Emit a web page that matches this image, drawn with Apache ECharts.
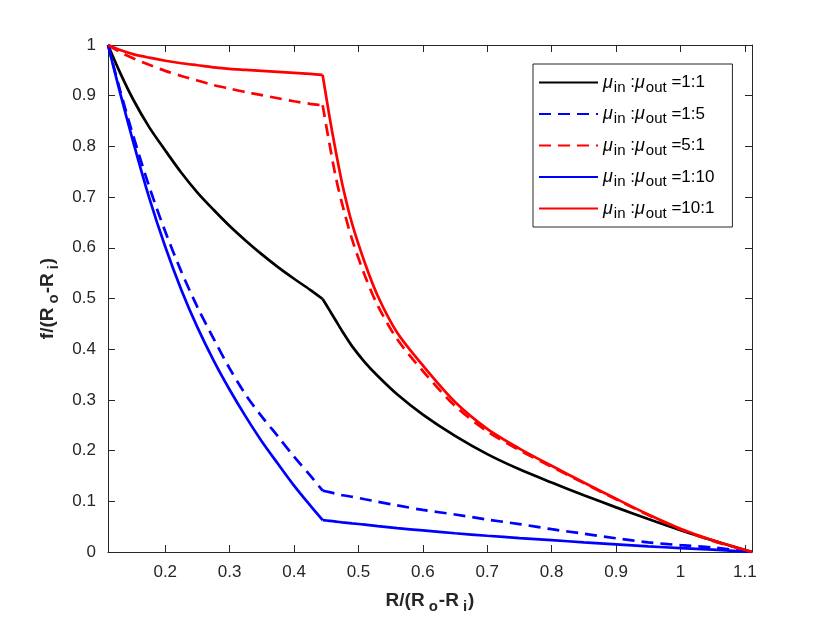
<!DOCTYPE html>
<html>
<head>
<meta charset="utf-8">
<script src="https://cdn.jsdelivr.net/npm/echarts@6/dist/echarts.min.js"></script>
<style>
  html, body { margin: 0; padding: 0; background: #fff; }
  #chart { width: 830px; height: 623px; }
</style>
</head>
<body>
<div id="chart"></div>
<script>
// R/(Ro-Ri): inner layer up to the interface (~0.4444), outer layer after it
const radiusInner = [0.1111, 0.13, 0.15, 0.175, 0.2, 0.225, 0.25, 0.275, 0.3, 0.325, 0.35, 0.375, 0.4, 0.425, 0.4444];
const radiusOuter = [0.4444, 0.455, 0.465, 0.475, 0.49, 0.51, 0.53, 0.56, 0.6, 0.65, 0.7, 0.75, 0.8, 0.85, 0.9, 0.95, 1.0, 1.05, 1.1111];

// f/(Ro-Ri)
const ratio1to1Inner = [1, 0.945, 0.893, 0.838, 0.792, 0.748, 0.709, 0.675, 0.643, 0.614, 0.587, 0.562, 0.539, 0.517, 0.499];
const ratio1to1Outer = [0.499, 0.477, 0.456, 0.435, 0.406, 0.374, 0.347, 0.311, 0.271, 0.229, 0.193, 0.163, 0.137, 0.112, 0.088, 0.065, 0.043, 0.023, 0];

const ratio1to5Inner = [1, 0.910, 0.822, 0.721, 0.632, 0.553, 0.483, 0.421, 0.362, 0.310, 0.267, 0.228, 0.188, 0.151, 0.121];
const ratio1to5Outer = [0.121, 0.118, 0.115, 0.112, 0.109, 0.104, 0.099, 0.092, 0.083, 0.074, 0.064, 0.055, 0.045, 0.036, 0.027, 0.019, 0.0135, 0.009, 0];

const ratio5to1Inner = [1, 0.986, 0.974, 0.961, 0.949, 0.939, 0.930, 0.921, 0.914, 0.907, 0.901, 0.895, 0.889, 0.884, 0.881];
const ratio5to1Outer = [0.881, 0.805, 0.738, 0.685, 0.617, 0.545, 0.486, 0.420, 0.357, 0.288, 0.238, 0.201, 0.168, 0.136, 0.104, 0.073, 0.045, 0.022, 0];

const ratio1to10Inner = [1, 0.905, 0.810, 0.699, 0.602, 0.517, 0.443, 0.378, 0.320, 0.267, 0.218, 0.174, 0.131, 0.092, 0.063];
const ratio1to10Outer = [0.063, 0.0615, 0.060, 0.0585, 0.0565, 0.054, 0.051, 0.047, 0.0425, 0.037, 0.032, 0.0275, 0.0235, 0.019, 0.015, 0.011, 0.0078, 0.0045, 0];

const ratio10to1Inner = [1, 0.990, 0.982, 0.975, 0.969, 0.964, 0.960, 0.956, 0.953, 0.951, 0.949, 0.947, 0.945, 0.943, 0.941];
const ratio10to1Outer = [0.941, 0.859, 0.789, 0.725, 0.648, 0.570, 0.505, 0.433, 0.368, 0.296, 0.243, 0.204, 0.170, 0.137, 0.105, 0.074, 0.046, 0.023, 0];

const xTicks = [0.2, 0.3, 0.4, 0.5, 0.6, 0.7, 0.8, 0.9, 1.0, 1.1];
const seriesNames = ['1:1', '1:5', '5:1', '1:10', '10:1'];

const font = 'Liberation Sans';
const axisColor = '#262626';

const chart = echarts.init(document.getElementById('chart'));

function pairs(xs, ys) {
  return xs.map((x, i) => [x, ys[i]]);
}

// one curve = two pieces (inner / outer layer) so the kink at the interface stays sharp
function curve(name, inner, outer, color, dashed) {
  const style = { color: color, width: 2.7, type: dashed ? [12, 7] : 'solid' };
  return [radiusInner, radiusOuter].map((xs, k) => ({
    name: name,
    type: 'line',
    data: pairs(xs, k === 0 ? inner : outer),
    symbol: 'none',
    smooth: 0.3,
    color: color,
    lineStyle: style,
  }));
}

const nameRich = {
  b: { fontFamily: font, fontSize: 19, fontWeight: 'bold', color: axisColor, lineHeight: 24 },
  sub: { fontFamily: font, fontSize: 15, fontWeight: 'bold', color: axisColor, lineHeight: 15, padding: [12, 1, 0, 4] },
};

const tickStyle = { inside: true, length: 7, lineStyle: { color: axisColor, width: 1 } };
const lineStyle = { onZero: false, lineStyle: { color: axisColor, width: 1 } };
const tickLabel = {
  formatter: v => String(Math.round(v * 10) / 10),
  color: axisColor,
  fontFamily: font,
  fontSize: 17,
};

const option = {
  backgroundColor: '#ffffff',
  animation: false,
  grid: { left: 108, right: 78, top: 45, bottom: 71 },
  legend: {
    orient: 'vertical',
    left: 533,
    top: 64,
    data: seriesNames,
    backgroundColor: '#fff',
    borderColor: axisColor,
    borderWidth: 1,
    borderRadius: 0,
    padding: [6, 18, 6, 5],
    itemWidth: 59,
    itemHeight: 14,
    itemGap: 6.5,
    itemStyle: { opacity: 0 },
    formatter: function (name) {
      return '{mu|μ}{sub|in} :{mu|μ}{sub|out} {t|=' + name + '}';
    },
    textStyle: {
      color: '#000',
      fontFamily: font,
      fontSize: 17,
      rich: {
        mu: { fontFamily: font, fontSize: 18, fontStyle: 'italic', color: '#000', lineHeight: 20 },
        sub: { fontFamily: font, fontSize: 15, color: '#000', lineHeight: 14, padding: [10, 0, 0, 1] },
        t: { fontFamily: font, fontSize: 17, color: '#000', lineHeight: 20 },
      },
    },
  },
  xAxis: [
    {
      type: 'value',
      min: 0.1111,
      max: 1.1111,
      position: 'bottom',
      axisLine: lineStyle,
      axisTick: Object.assign({ customValues: xTicks }, tickStyle),
      axisLabel: Object.assign({ customValues: xTicks, margin: 12 }, tickLabel),
      splitLine: { show: false },
      name: '{b|R/(R}{sub|o}{b|-R}{sub|i}{b|)}',
      nameLocation: 'middle',
      nameGap: 37,
      nameTextStyle: { rich: nameRich },
    },
    {
      type: 'value',
      min: 0.1111,
      max: 1.1111,
      position: 'top',
      axisLine: lineStyle,
      axisTick: Object.assign({ customValues: xTicks }, tickStyle),
      axisLabel: { show: false },
      splitLine: { show: false },
    },
  ],
  yAxis: [
    {
      type: 'value',
      min: 0,
      max: 1,
      interval: 0.1,
      position: 'left',
      axisLine: lineStyle,
      axisTick: tickStyle,
      axisLabel: Object.assign({ margin: 12 }, tickLabel),
      splitLine: { show: false },
      name: '{b|f/(R}{sub|o}{b|-R}{sub|i}{b|)}',
      nameLocation: 'middle',
      nameRotate: 90,
      nameGap: 47,
      nameTextStyle: { rich: nameRich },
    },
    {
      type: 'value',
      min: 0,
      max: 1,
      interval: 0.1,
      position: 'right',
      axisLine: lineStyle,
      axisTick: tickStyle,
      axisLabel: { show: false },
      splitLine: { show: false },
    },
  ],
  series: [].concat(
    curve(seriesNames[0], ratio1to1Inner, ratio1to1Outer, '#000000', false),
    curve(seriesNames[1], ratio1to5Inner, ratio1to5Outer, '#0000ff', true),
    curve(seriesNames[2], ratio5to1Inner, ratio5to1Outer, '#ff0000', true),
    curve(seriesNames[3], ratio1to10Inner, ratio1to10Outer, '#0000ff', false),
    curve(seriesNames[4], ratio10to1Inner, ratio10to1Outer, '#ff0000', false)
  ),
};

chart.setOption(option);
</script>
</body>
</html>
